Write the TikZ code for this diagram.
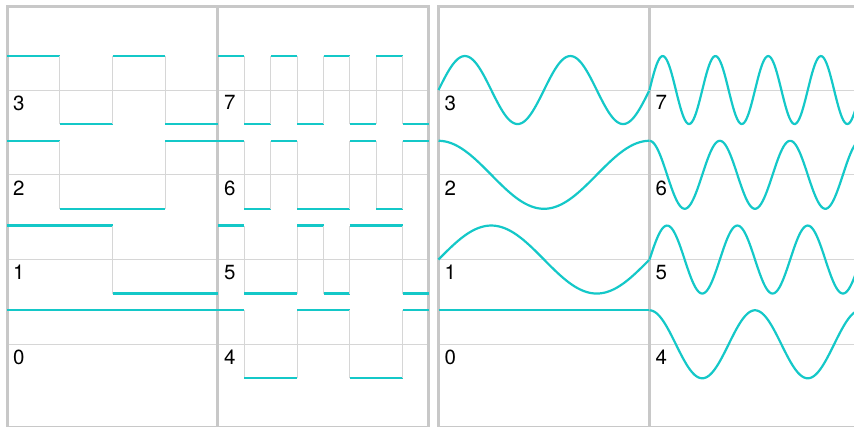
\documentclass[tikz,border=0pt]{standalone}
\usepackage{fontspec}
\setmainfont{TeX Gyre Heros}

\newcommand*{\colw}{211}
\newcommand*{\rowh}{84.75}
\newcommand*{\amp}{34}
\newcommand*{\ybase}{82.7}
\newcommand*{\ytop}{420.5}
\newcommand*{\ybot}{-1}

\definecolor{wavecyan}{RGB}{20,200,200}
\definecolor{framegray}{RGB}{200,200,200}
\definecolor{guidegray}{RGB}{214,214,214}

\begin{document}
\begin{tikzpicture}
[
	x=1pt, y=1pt,
	wave/.style={wavecyan, line width=2.2pt},
	frame/.style={framegray, line width=3pt},
	guide/.style={guidegray, line width=0.8pt},
	lbl/.style={anchor=north west, inner sep=0pt, font=\fontsize{20.5}{20.5}\selectfont}
]
	\useasboundingbox (0,0) rectangle (854,427);
	\clip (0,0) rectangle (854,427);

	% guides
	\foreach \r in {0,...,3}{
		\draw[guide] (7,\ybase+\rowh*\r) -- (428.5,\ybase+\rowh*\r);
		\draw[guide] (438.5,\ybase+\rowh*\r) -- (860.5,\ybase+\rowh*\r);
	}

	% frames
	\draw[frame] (7,\ybot) rectangle (428.5,\ytop);
	\draw[frame] (217.5,\ybot) -- (217.5,\ytop);
	\draw[frame] (438.5,\ybot) rectangle (860.5,\ytop);
	\draw[frame] (649.5,\ybot) -- (649.5,\ytop);

	% walsh functions
	\foreach \k/\s in {0/{1,1,1,1,1,1,1,1}, 1/{1,1,1,1,-1,-1,-1,-1},
		2/{1,1,-1,-1,-1,-1,1,1}, 3/{1,1,-1,-1,1,1,-1,-1},
		4/{1,-1,-1,1,1,-1,-1,1}, 5/{1,-1,-1,1,-1,1,1,-1},
		6/{1,-1,1,-1,-1,1,-1,1}, 7/{1,-1,1,-1,1,-1,1,-1}}{
		\pgfmathsetmacro{\xo}{7+\colw*int(\k/4)}
		\pgfmathsetmacro{\yc}{\ybase+\rowh*mod(\k,4)}
		\foreach \v [count=\i from 0, remember=\v as \pv (initially 1)] in \s {
			\ifnum\v=\pv\else
				\draw[guide] (\xo+\i*\colw/8,\yc-\amp) -- (\xo+\i*\colw/8,\yc+\amp);
			\fi
			\draw[wave] (\xo+\i*\colw/8,\yc+\v*\amp) -- (\xo+\i*\colw/8+\colw/8,\yc+\v*\amp);
		}
		\node[lbl] (w\k) at (\xo+6,\yc-5.5) {\k};
	}

	% sines and cosines
	\foreach \k in {0,...,7}{
		\pgfmathsetmacro{\xo}{438.5+\colw*int(\k/4)}
		\pgfmathsetmacro{\yc}{\ybase+\rowh*mod(\k,4)}
		\pgfmathsetmacro{\fr}{360*ceil(\k/2)}
		\pgfmathsetmacro{\ph}{90*mod(\k,2)}
		\draw[wave, domain=0:1, samples=150, smooth] plot ({\xo+\colw*\x},{\yc+\amp*cos(\fr*\x-\ph)});
		\node[lbl] (c\k) at (\xo+6,\yc-5.5) {\k};
	}

\end{tikzpicture}
\end{document}
